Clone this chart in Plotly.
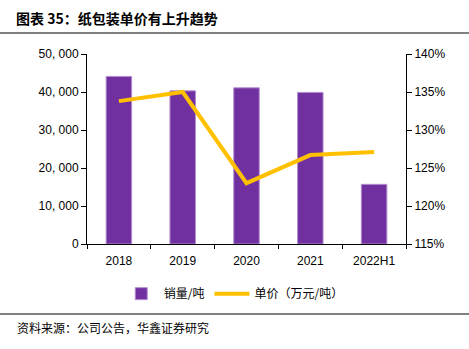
import plotly.graph_objects as go

categories = ["2018", "2019", "2020", "2021", "2022H1"]
volume = [44100, 40300, 41100, 39900, 15700]
price_pct = [133.8, 135.0, 123.0, 126.7, 127.1]
left_ticks = [0, 10000, 20000, 30000, 40000, 50000]
left_labels = ["0", "10, 000", "20, 000", "30, 000", "40, 000", "50, 000"]
right_ticks = [115, 120, 125, 130, 135, 140]
right_labels = ["115%", "120%", "125%", "130%", "135%", "140%"]

fig = go.Figure()
fig.add_trace(go.Bar(
    x=categories, y=volume, name="销量/吨",
    marker=dict(color="#7030A0", line=dict(color="#B48FD0", width=1)),
    yaxis="y",
))
fig.add_trace(go.Scatter(
    x=categories, y=price_pct, name="单价（万元/吨）", mode="lines",
    line=dict(color="#FFC000", width=4), yaxis="y2",
))

W, H = 469, 349
L, R, T, B = 87, 406, 54, 244
fig.update_layout(
    width=W, height=H,
    margin=dict(l=L, r=W - R, t=T, b=H - B),
    paper_bgcolor="white", plot_bgcolor="white",
    font=dict(family="Liberation Sans, Arial, sans-serif", size=12, color="#000"),
    bargap=0.6,
    showlegend=True,
    legend=dict(orientation="h", x=0.46, xanchor="center", y=-0.185, yanchor="top",
                font=dict(family="Noto Sans CJK SC", size=12), itemwidth=35,
                tracegroupgap=0),
    xaxis=dict(showline=True, linecolor="#000", linewidth=1, ticks="outside",
               tickson="boundaries", ticklen=4, tickcolor="#000", showgrid=False,
               tickfont=dict(size=12), ticklabelstandoff=6),
    yaxis=dict(range=[0, 50000], tickvals=left_ticks, ticktext=left_labels,
               showline=True, linecolor="#000", linewidth=1, ticks="outside",
               ticklen=5, tickcolor="#000", showgrid=False, zeroline=False,
               tickfont=dict(size=12)),
    yaxis2=dict(range=[115, 140], tickvals=right_ticks, ticktext=right_labels,
                overlaying="y", side="right", showline=True, linecolor="#000",
                linewidth=1, ticks="outside", ticklen=5, tickcolor="#000",
                showgrid=False, zeroline=False, tickfont=dict(size=12)),
    annotations=[
        dict(text="<b>图表 35：纸包装单价有上升趋势</b>", xref="paper", yref="paper",
             x=-L / (R - L) + 14 / (R - L), y=1 + (T - 18) / (B - T),
             xanchor="left", yanchor="middle", showarrow=False,
             font=dict(family="Noto Sans CJK SC", size=14, color="#000")),
        dict(text="资料来源：公司公告，华鑫证券研究", xref="paper", yref="paper",
             x=-L / (R - L) + 15 / (R - L), y=-(327 - B) / (B - T),
             xanchor="left", yanchor="middle", showarrow=False,
             font=dict(family="Noto Sans CJK SC", size=12, color="#000")),
    ],
    shapes=[
        dict(type="line", xref="paper", yref="paper",
             x0=-L / (R - L), x1=(W - L) / (R - L),
             y0=1 + (T - 33) / (B - T), y1=1 + (T - 33) / (B - T),
             line=dict(color="#808080", width=2)),
        dict(type="line", xref="paper", yref="paper",
             x0=-L / (R - L), x1=(W - L) / (R - L),
             y0=-(314 - B) / (B - T), y1=-(314 - B) / (B - T),
             line=dict(color="#808080", width=2)),
    ],
)

fig.write_html("out.html")
